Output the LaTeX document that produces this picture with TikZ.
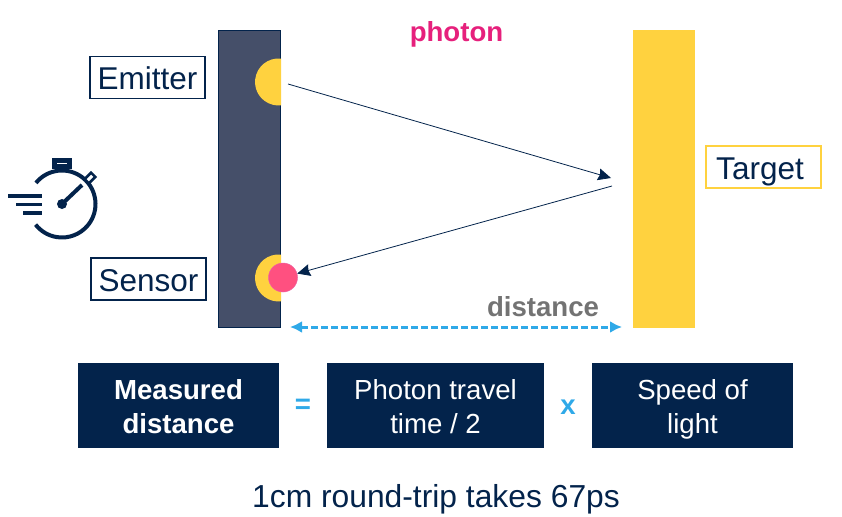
\documentclass[tikz,border=0pt]{standalone}
\usepackage{fontspec}
\setmainfont{Liberation Sans}
\usetikzlibrary{arrows.meta}
\definecolor{navy}{HTML}{03234B}
\definecolor{slatebar}{HTML}{454F69}
\definecolor{sunny}{HTML}{FFD23F}
\definecolor{hotpink}{HTML}{E6207C}
\definecolor{dotpink}{HTML}{FF5080}
\definecolor{skyblue}{HTML}{2FA9E8}
\newcommand{\toppad}{\rule{0pt}{32pt}}
\tikzset{
  tag/.style={draw=navy, line width=1.5pt, fill=white, text=navy, font=\fontsize{31.5}{36}\selectfont,
    minimum width=115pt, minimum height=42pt, inner sep=0pt, text height=24pt, text depth=0pt},
  termbox/.style={fill=navy, text=white, font=\fontsize{27.6}{34}\selectfont, align=center,
    minimum height=85pt, inner sep=0pt},
  raybeam/.style={navy, line width=0.8pt, -{Stealth[length=13pt,width=12pt,inset=1.5pt]}},
  watchline/.style={navy, line width=4pt}
}

\begin{document}
\begin{tikzpicture}[x=1pt,y=-1pt]
\useasboundingbox (0,0) rectangle (842,516);

% Bars
\draw[navy, line width=1pt, fill=slatebar] (218.5,30.5) rectangle (280.5,327.5);
\fill[sunny] (633,30) rectangle (695,328);

% Half discs
\fill[sunny] (281,58.6) arc[start angle=84, end angle=276, radius=23.5pt] -- cycle;
\fill[sunny] (281,254.6) arc[start angle=84, end angle=276, radius=23.5pt] -- cycle;

% Photon on the sensor
\node[circle, fill=dotpink, draw=hotpink!70, line width=0.5pt, minimum size=29pt, inner sep=0pt] (dot) at (283,277.5) {};

% Labels
\node[tag] (emitter) at (147.5,77.5) {Emitter};
\node[tag] (sensor) at (148.5,279) {Sensor};
\node[tag, draw=sunny] (target) at (763.5,167) {Target\hspace*{7pt}};
\node[text=hotpink, font=\fontsize{27.6}{34}\selectfont\bfseries] (photon) at (456.5,34) {photon};
\node[text=black!55, font=\fontsize{27.6}{34}\selectfont\bfseries] (distance) at (543,307) {distance};

% Rays
\coordinate (rayStart) at (288,84);
\coordinate (rayTurnA) at (611,178);
\coordinate (rayTurnB) at (612,186);
\draw[raybeam] (rayStart) -- (rayTurnA);
\draw[raybeam] (rayTurnB) -- (dot);

% Distance arrow
\coordinate (gapLeft) at (290,327);
\coordinate (gapRight) at (622,327);
\draw[skyblue, line width=3pt, dash pattern=on 7pt off 3pt, {Latex[length=12pt,width=12pt]}-{Latex[length=12pt,width=12pt]}] (gapLeft) -- (gapRight);

% Formula
\node[termbox, minimum width=201pt, font=\fontsize{27.6}{34}\selectfont\bfseries] (measured) at (178.5,405.5) {\toppad Measured\\distance\strut};
\node[termbox, minimum width=217pt] (travel) at (435.5,405.5) {\toppad Photon travel\\time / 2\strut};
\node[termbox, minimum width=201pt] (speed) at (692.5,405.5) {\toppad Speed of\\light\strut};
\node[text=skyblue, font=\fontsize{27.6}{34}\selectfont\bfseries] (equals) at (303,406) {=};
\node[text=skyblue, font=\fontsize{27.6}{34}\selectfont\bfseries] (times) at (568,407) {x};
\node[text=navy, font=\fontsize{31.8}{38}\selectfont] (roundtrip) at (436,499) {1cm round-trip takes 67ps};

% Stopwatch
\coordinate (hub) at (62,204);
\draw[watchline] (hub) ++(141:33.5pt) arc[start angle=141, end angle=-142, radius=33.5pt];
\fill[navy] (hub) circle (5pt);
\draw[watchline] (hub) -- (82,185);
\fill[navy] (52,158) rectangle (72,169);
\draw[white, line width=1pt] (57,163) -- (67,163);
\draw[navy, line width=3pt] (62,169) -- (62,171);
\draw[navy, line width=2.5pt, fill=white, rotate around={45:(90,178)}] (85.5,175) rectangle (94.5,181);
\foreach \x/\y in {8/196, 16/204.5, 23/213}{
    \draw[navy, line width=3.5pt] (\x,\y) -- (42,\y);
}

\end{tikzpicture}
\end{document}
